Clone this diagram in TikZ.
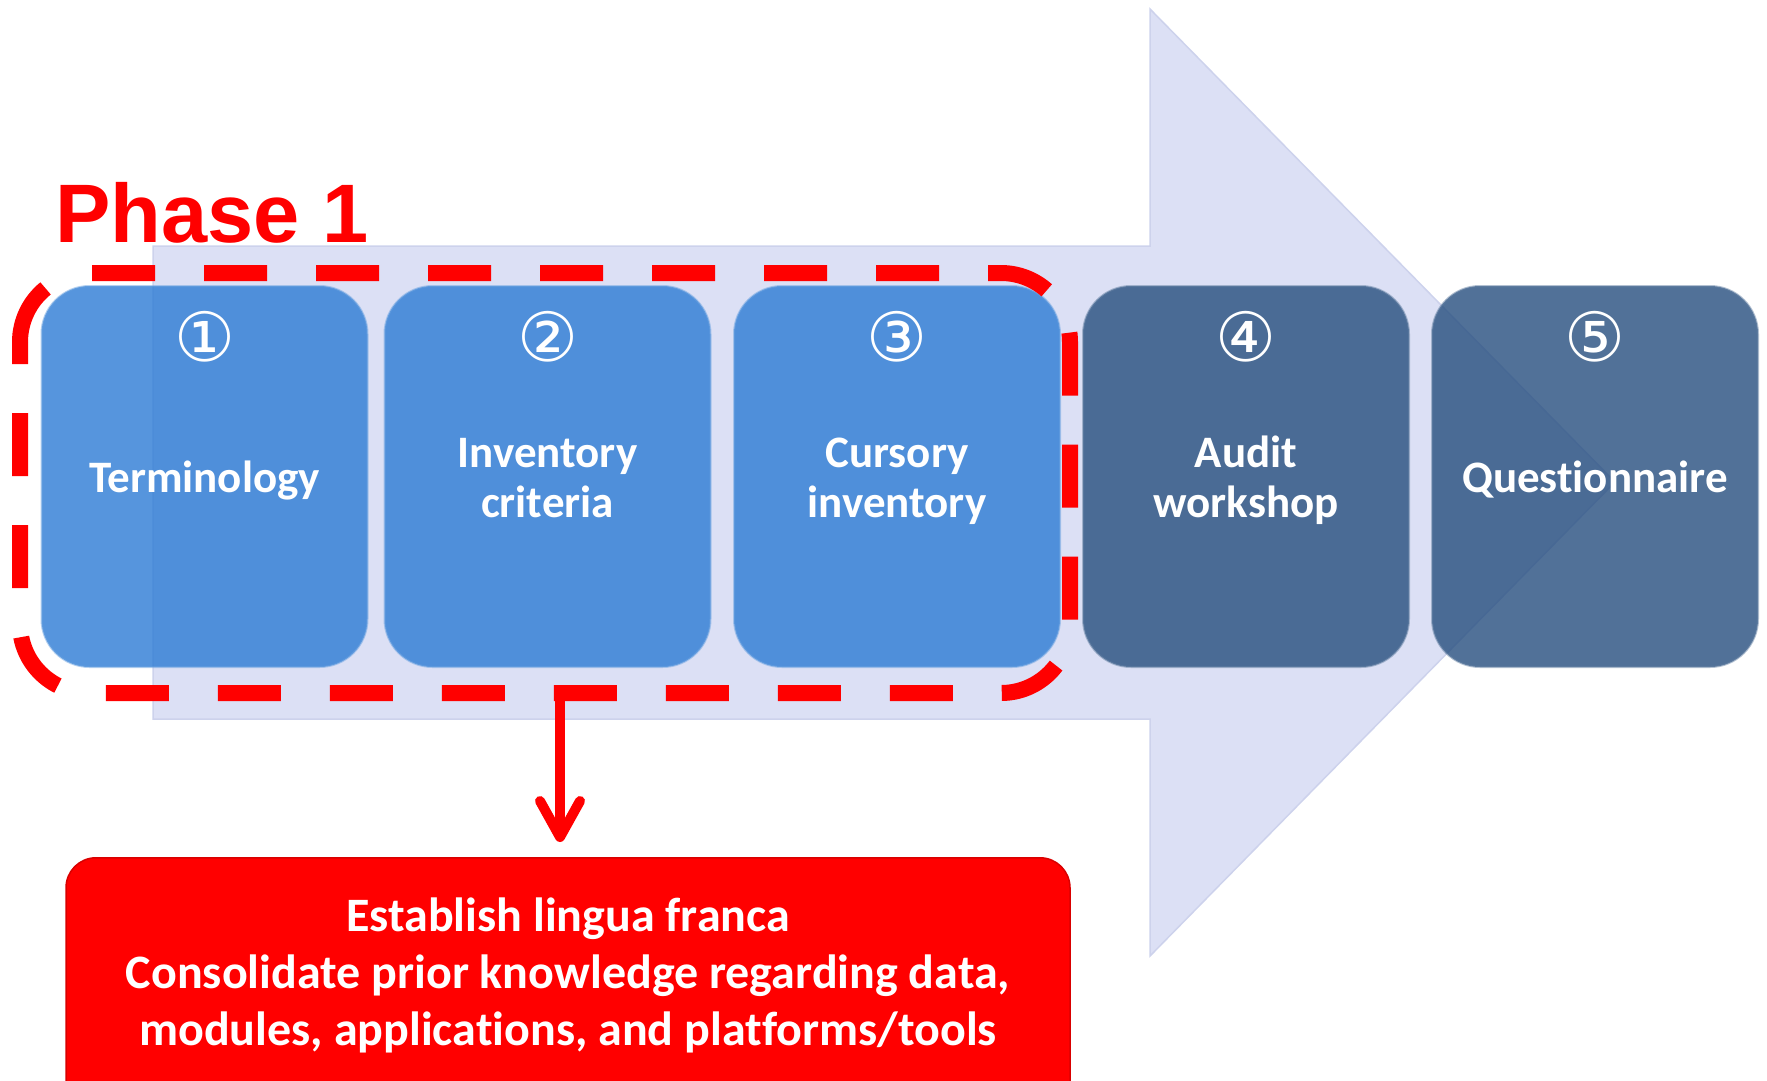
\documentclass[tikz,border=0pt]{standalone}
\usepackage{fontspec}
\setmainfont{Carlito}[Ligatures=NoCommon]
\newfontfamily\headfont{Liberation Sans}
\newfontfamily\numfont{DejaVu Sans}
\usetikzlibrary{arrows.meta}

\definecolor{arrowbg}{HTML}{DCE0F5}
\definecolor{arrowedge}{HTML}{CDD2EC}
\definecolor{stepblue}{RGB}{44,123,212}
\definecolor{stepsteel}{RGB}{38,78,126}
\definecolor{phasered}{HTML}{FF0000}

\begin{document}
\begin{tikzpicture}[x=1pt,y=-1pt,
  stepbox/.style={rounded corners=48pt, minimum width=326pt, minimum height=381pt,
    inner sep=0pt, fill opacity=0.8},
  bluestep/.style={stepbox, fill=stepblue, draw=stepblue!70!white, draw opacity=0.5, line width=2pt},
  steelstep/.style={stepbox, fill=stepsteel, draw=stepsteel!70!white, draw opacity=0.5, line width=2pt},
  steptext/.style={text=white, align=center, inner sep=0pt,
    font=\bfseries\fontsize{45}{50}\selectfont},
  stepnum/.style={text=white, inner sep=0pt, font=\numfont\fontsize{68}{68}\selectfont},
  phaseline/.style={draw=phasered, line width=16pt, dash pattern=on 63pt off 49pt, dash phase=109pt},
  flow/.style={draw=phasered, line width=10pt, -{Straight Barb[length=36pt, width=40pt, round]}},
  summarybox/.style={rounded corners=30pt, fill=phasered, draw=phasered!85!black, line width=1.5pt,
    minimum width=1004pt, minimum height=260pt, inner sep=0pt},
  summarytext/.style={text=white, align=center, inner sep=0pt,
    font=\bfseries\fontsize{48}{57}\selectfont}]

\useasboundingbox (0,0) rectangle (1767,1080);
\clip (0,0) rectangle (1767,1080);

% large background process arrow
\filldraw[fill=arrowbg, draw=arrowedge, line width=1.5pt]
  (153,246) -- (1150,246) -- (1150,9) -- (1615,482) -- (1150,956) -- (1150,719) -- (153,719) -- cycle;

% the five steps
\node[bluestep]  (s1) at (204.5,476.5) {};
\node[bluestep]  (s2) at (547.5,476.5) {};
\node[bluestep]  (s3) at (897,476.5)   {};
\node[steelstep] (s4) at (1246,476.5)  {};
\node[steelstep] (s5) at (1595,476.5)  {};

\node[steptext] (t1) at ([yshift=-6pt]s1.center) {\strut Terminology};
\node[steptext] (t2) at ([yshift=-6pt]s2.center) {\strut Inventory\\\strut criteria};
\node[steptext] (t3) at ([yshift=-6pt]s3.center) {\strut Cursory\\\strut inventory};
\node[steptext] (t4) at ([yshift=-6pt]s4.center) {\strut Audit\\\strut workshop};
\node[steptext] (t5) at ([yshift=-6pt]s5.center) {\strut Questionnaire};

\node[stepnum] (n1) at ([yshift=-52pt]s1.north) {①};
\node[stepnum] (n2) at ([yshift=-52pt]s2.north) {②};
\node[stepnum] (n3) at ([yshift=-52pt]s3.north) {③};
\node[stepnum] (n4) at ([yshift=-52pt]s4.north) {④};
\node[stepnum] (n5) at ([yshift=-52pt]s5.north) {⑤};

% dashed frame around phase 1
\draw[phaseline] (89,273) -- (1001,273) arc[start angle=270, end angle=360, radius=69]
  -- (1070,624) arc[start angle=0, end angle=90, radius=69]
  -- (89,693) arc[start angle=90, end angle=180, radius=69] -- (20,342);
\draw[draw=phasered, line width=16pt] (20,342) arc[start angle=180, end angle=231, radius=69];

\node[anchor=base west, inner sep=0pt, text=phasered,
  font=\headfont\bfseries\fontsize{83}{83}\selectfont] (phase) at (55,242) {Phase 1};

% outcome of phase 1
\node[summarybox, anchor=north] (summary) at (568,857) {};
\node[summarytext] (summarytxt) at (568,975)
  {Establish lingua franca\\Consolidate prior knowledge regarding data,\\modules, applications, and platforms/tools};

\coordinate (p1out) at (560,693);
\draw[flow] (p1out) -- ([yshift=15pt]summary.north -| p1out);
\end{tikzpicture}
\end{document}
